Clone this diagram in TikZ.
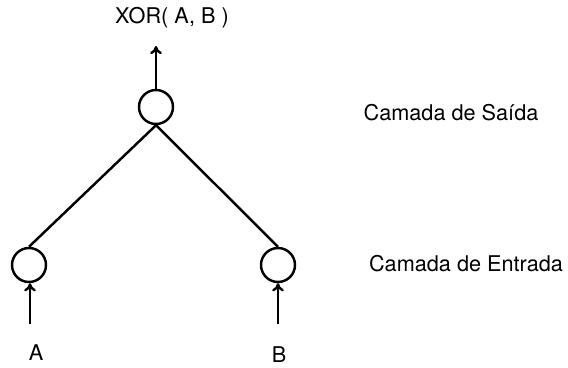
\documentclass[tikz,border=0pt]{standalone}
\usepackage{fontspec}
\setmainfont{TeX Gyre Heros}
\usetikzlibrary{arrows.meta}

\begin{document}
\begin{tikzpicture}[x=0.03cm, y=-0.03cm, line width=2.1pt,
    >={To[length=7pt, width=10pt]},
    neuron/.style={draw, circle, minimum size=1.02cm, inner sep=0pt},
    lbl/.style={font=\fontsize{18.5}{22}\selectfont}]
  \useasboundingbox (0,0) rectangle (568,367);

  % Neurónios: saída em cima, entradas em baixo
  \node[neuron] (out) at (156,107) {};
  \node[neuron] (inA) at (29,265) {};
  \node[neuron] (inB) at (278,265) {};

  % Ligações da camada de entrada para a saída
  \draw (out.south) -- (inA.north);
  \draw (out.south) -- (inB.north);

  % Sinal de saída
  \coordinate (topo) at (156,46);
  \draw[->] (out.north) -- (topo);
  \node[lbl] (xor) at (172,18) {XOR( A, B )};

  % Sinais de entrada
  \coordinate (pA) at (30,324);
  \coordinate (pB) at (278,324);
  \draw[->] (pA) -- (pA |- inA.south);
  \draw[->] (pB) -- (inB.south);
  \node[lbl] (a) at (36,353) {A};
  \node[lbl] (b) at (279,355) {B};

  % Nomes das camadas
  \node[lbl] (saida) at (451,113) {Camada de Saída};
  \node[lbl] (entrada) at (466,264) {Camada de Entrada};
\end{tikzpicture}
\end{document}
